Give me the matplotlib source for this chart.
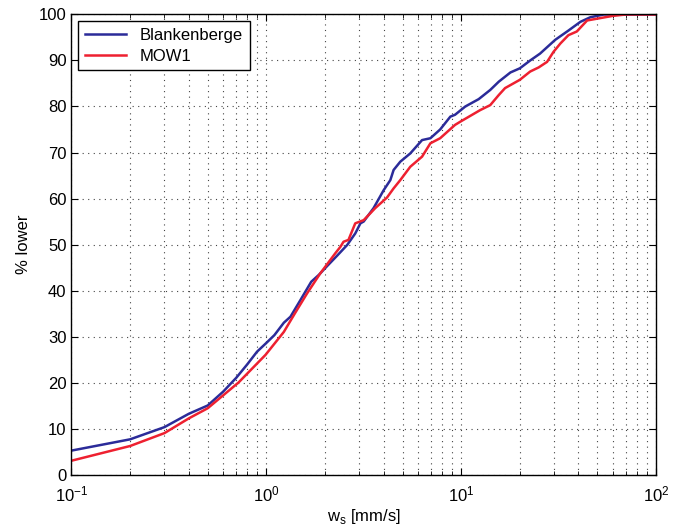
import matplotlib
matplotlib.use("Agg")
import matplotlib.pyplot as plt
from matplotlib.ticker import LogLocator, MultipleLocator, NullFormatter

plt.rcParams['font.family'] = ['Liberation Sans', 'DejaVu Sans']

# settling velocity [mm/s] and cumulative % lower
ws_blank = [0.1, 0.2, 0.3, 0.4, 0.5, 0.6, 0.7, 0.8, 0.896, 1.0, 1.10, 1.23, 1.33, 1.5,
            1.70, 1.86, 2.05, 2.3, 2.6, 2.86, 3.04, 3.16, 3.55, 4.0, 4.33, 4.5, 4.87,
            5.48, 6.3, 6.95, 7.8, 8.8, 9.3, 10.5, 12.3, 14.1, 15.6, 17.9, 20.0, 22.6,
            25.4, 30.4, 35.5, 40.9, 46.0, 54.0, 100.0]
pct_blank = [5.2, 7.65, 10.3, 13.2, 15.0, 18.0, 21.0, 24.0, 26.7, 28.6, 30.3, 33.0, 34.3, 38.0,
             41.9, 43.4, 45.3, 47.5, 49.9, 52.4, 54.6, 55.0, 57.9, 61.8, 64.0, 66.2, 68.0,
             69.8, 72.7, 73.1, 75.0, 77.8, 78.2, 80.0, 81.6, 83.6, 85.4, 87.4, 88.3, 90.0,
             91.5, 94.5, 96.5, 98.4, 99.4, 100.0, 100.0]

ws_mow = [0.1, 0.2, 0.3, 0.4, 0.5, 0.6, 0.72, 0.99, 1.23, 1.4, 1.62, 1.89, 2.26, 2.40, 2.49,
          2.64, 2.86, 3.16, 3.42, 3.62, 4.16, 4.5, 4.87, 5.48, 6.3, 6.95, 7.8, 9.3, 9.9,
          12.5, 14.1, 15.6, 16.8, 20.0, 22.6, 25.0, 27.6, 29.8, 32.3, 35.5, 39.2, 44.3,
          51.5, 60.0, 70.0, 100.0]
pct_mow = [3.0, 6.2, 9.0, 12.2, 14.4, 17.2, 20.0, 26.0, 31.0, 35.0, 39.4, 43.7, 48.1, 49.5, 50.6,
           51.0, 54.6, 55.3, 56.8, 57.9, 60.2, 62.2, 64.0, 66.9, 69.1, 72.0, 73.1, 76.0, 76.7,
           79.2, 80.3, 82.5, 84.0, 85.8, 87.6, 88.5, 89.7, 91.9, 93.7, 95.5, 96.3, 98.7,
           99.2, 99.7, 100.0, 100.0]

fig = plt.figure(figsize=(6.92, 5.29), dpi=100)
ax = fig.add_axes([0.1033, 0.103, 0.8447, 0.8696])

ax.semilogx(ws_blank, pct_blank, color='#2B2B99', lw=1.8, label='Blankenberge')
ax.semilogx(ws_mow, pct_mow, color='#EE2030', lw=1.8, label='MOW1')

ax.set_xlim(0.1, 100)
ax.set_ylim(0, 100)
ax.yaxis.set_major_locator(MultipleLocator(10))
ax.xaxis.set_major_locator(LogLocator(base=10))
ax.xaxis.set_minor_locator(LogLocator(base=10, subs=range(2, 10)))
ax.xaxis.set_minor_formatter(NullFormatter())

grid_kw = dict(ls=(0, (1, 4)), color='#444444', lw=0.8)
ax.grid(True, which='major', **grid_kw)
ax.grid(True, which='minor', axis='x', **grid_kw)

ax.tick_params(which='both', direction='in', top=True, right=True, labelsize=12)
ax.tick_params(which='major', length=5)
ax.tick_params(which='minor', length=3)
ax.tick_params(axis='x', which='major', pad=7)
for s in ax.spines.values():
    s.set_linewidth(1.0)

ax.set_xlabel('w$_\\mathregular{s}$ [mm/s]', fontsize=12, labelpad=2)
ax.set_ylabel('% lower', fontsize=12, labelpad=6)

leg = ax.legend(loc='upper left', fontsize=12, fancybox=False, edgecolor='k',
                framealpha=1, borderaxespad=0.4, handlelength=2.5, labelspacing=0.35,
                borderpad=0.4)
leg.get_frame().set_linewidth(1.0)

fig.savefig('out.png', dpi=100)
